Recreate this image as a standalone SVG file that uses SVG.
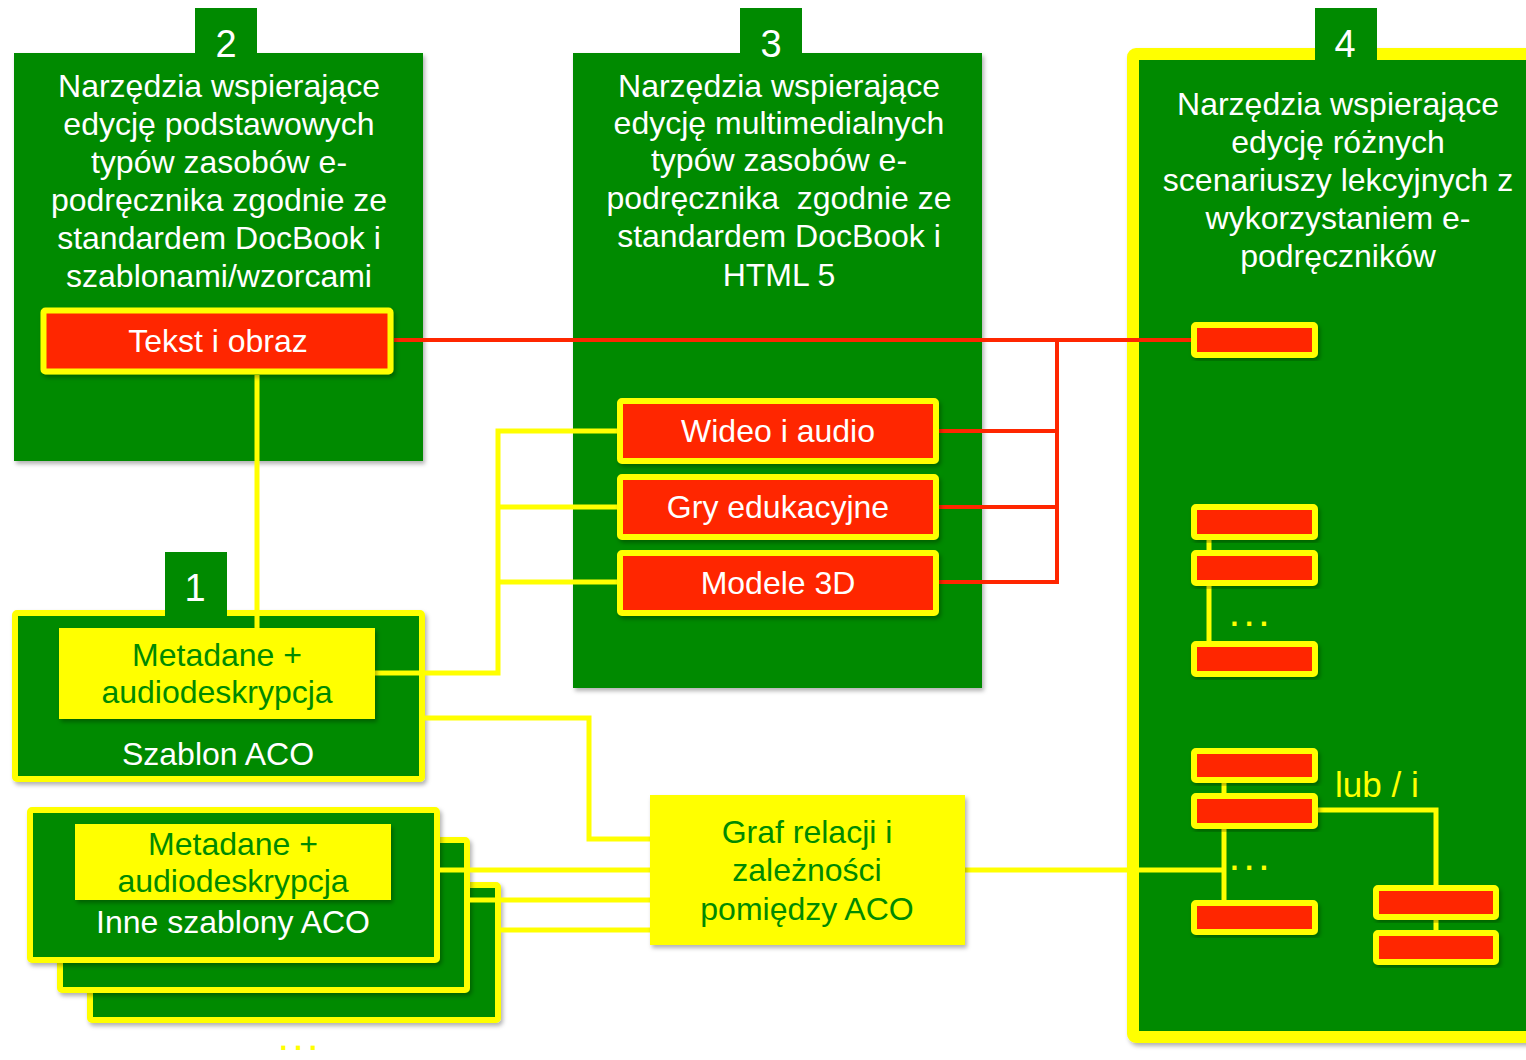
<svg xmlns="http://www.w3.org/2000/svg" width="1526" height="1060" viewBox="0 0 1526 1060">
<defs>
<filter id="sh" x="-10%" y="-10%" width="130%" height="130%">
<feDropShadow dx="2" dy="3" stdDeviation="2" flood-color="#000" flood-opacity="0.3"/>
</filter>
<style>
.g{fill:#008A00}
.frame{fill:#008A00;stroke:#FFFF00}
.lbl{fill:#FF2600;stroke:#FFFF00;stroke-width:6}
.yb{fill:#FFFF00}
text{font-family:"Liberation Sans",Arial,sans-serif;text-anchor:middle}
.wt{fill:#FFFFFF;font-size:32px}
.num{fill:#FFFFFF;font-size:38px}
.gt{fill:#008A00;font-size:32px}
.yt{fill:#FFFF00}
.dots{fill:#FFFF00;font-family:"DejaVu Sans",sans-serif;font-weight:bold;font-size:23px;letter-spacing:6px;text-anchor:start}
.yl{stroke:#FFFF00;stroke-width:5;fill:none}
.rl{stroke:#FF2600;stroke-width:4;fill:none}
</style>
</defs>

<g id="node-2">
<rect class="g" x="14" y="53" width="409" height="408" filter="url(#sh)"/>
<rect class="g" x="195" y="8" width="62" height="46"/>
<text class="num" x="226" y="57">2</text>
<text class="wt" x="219" y="97">Narzędzia wspierające</text>
<text class="wt" x="219" y="135">edycję podstawowych</text>
<text class="wt" x="219" y="173">typów zasobów e-</text>
<text class="wt" x="219" y="211">podręcznika zgodnie ze</text>
<text class="wt" x="219" y="249">standardem DocBook i</text>
<text class="wt" x="219" y="287">szablonami/wzorcami</text>
</g>

<g id="node-3">
<rect class="g" x="573" y="53" width="409" height="635" filter="url(#sh)"/>
<rect class="g" x="740" y="8" width="62" height="46"/>
<text class="num" x="771" y="57">3</text>
<text class="wt" x="779" y="97">Narzędzia wspierające</text>
<text class="wt" x="779" y="134">edycję multimedialnych</text>
<text class="wt" x="779" y="171">typów zasobów e-</text>
<text class="wt" x="779" y="209" xml:space="preserve">podręcznika  zgodnie ze</text>
<text class="wt" x="779" y="247">standardem DocBook i</text>
<text class="wt" x="779" y="286">HTML 5</text>
</g>

<g id="node-4">
<rect class="frame" x="1133" y="54" width="420" height="983" stroke-width="12" rx="3" filter="url(#sh)"/>
<rect class="g" x="1315" y="8" width="62" height="52"/>
<text class="num" x="1345" y="57">4</text>
<text class="wt" x="1338" y="115">Narzędzia wspierające</text>
<text class="wt" x="1338" y="153">edycję różnych</text>
<text class="wt" x="1338" y="191">scenariuszy lekcyjnych z</text>
<text class="wt" x="1338" y="229">wykorzystaniem e-</text>
<text class="wt" x="1338" y="267">podręczników</text>
</g>

<g id="node-1">
<rect class="frame" x="15" y="613" width="407" height="166" stroke-width="6" rx="2" filter="url(#sh)"/>
<rect class="g" x="165" y="552" width="62" height="64"/>
<text class="num" x="195" y="601">1</text>
<text class="wt" x="218" y="765">Szablon ACO</text>
</g>

<g id="node-inne">
<rect class="frame" x="90" y="885" width="408" height="135" stroke-width="6" rx="2" filter="url(#sh)"/>
<rect class="frame" x="60" y="840" width="407" height="150" stroke-width="6" rx="2" filter="url(#sh)"/>
<rect class="frame" x="30" y="810" width="407" height="150" stroke-width="6" rx="2" filter="url(#sh)"/>
<text class="wt" x="233" y="933">Inne szablony ACO</text>
<text class="dots" x="279" y="1050">...</text>
</g>

<g id="connectors">
<path class="rl" d="M394 340 H1194"/>
<path class="rl" d="M1057 340 V582"/>
<path class="rl" d="M937 431 H1057 M937 507 H1057 M937 582 H1059"/>
<path class="yl" d="M257 375 V628"/>
<path class="yl" d="M375 673 H498 V431 H617 M498 507 H617 M498 582 H617"/>
<path class="yl" d="M425 718 H589 V839 H650"/>
<path class="yl" d="M440 870 H650 M470 900 H650 M501 930 H650"/>
<path class="yl" d="M965 870 H1224"/>
<path class="yl" d="M1224 783 V900"/>
<path class="yl" d="M1209 540 V641"/>
<path class="yl" d="M1318 810 H1436 V885 M1436 920 V930"/>
</g>

<g id="node-tekst">
<rect class="lbl" x="43.5" y="310.5" width="347" height="61" stroke-width="7" rx="2" filter="url(#sh)"/>
<text class="wt" x="218" y="352">Tekst i obraz</text>
</g>

<g id="node-wideo">
<rect class="lbl" x="620" y="401" width="316" height="60" rx="2" filter="url(#sh)"/>
<text class="wt" x="778" y="442">Wideo i audio</text>
</g>

<g id="node-gry">
<rect class="lbl" x="620" y="477" width="316" height="60" rx="2" filter="url(#sh)"/>
<text class="wt" x="778" y="518">Gry edukacyjne</text>
</g>

<g id="node-modele">
<rect class="lbl" x="620" y="553" width="316" height="60" rx="2" filter="url(#sh)"/>
<text class="wt" x="778" y="594">Modele 3D</text>
</g>

<g id="node-metadane-1">
<rect class="yb" x="59" y="628" width="316" height="91" filter="url(#sh)"/>
<text class="gt" x="217" y="666">Metadane +</text>
<text class="gt" x="217" y="703">audiodeskrypcja</text>
</g>

<g id="node-metadane-2">
<rect class="yb" x="75" y="824" width="316" height="76" filter="url(#sh)"/>
<text class="gt" x="233" y="855">Metadane +</text>
<text class="gt" x="233" y="892">audiodeskrypcja</text>
</g>

<g id="node-graf">
<rect class="yb" x="650" y="795" width="315" height="150" filter="url(#sh)"/>
<text class="gt" x="807" y="843">Graf relacji i</text>
<text class="gt" x="807" y="881">zależności</text>
<text class="gt" x="807" y="920">pomiędzy ACO</text>
</g>

<g id="node-scenario-items">
<rect class="lbl" x="1194" y="325" width="121" height="30" rx="2" filter="url(#sh)"/>
<rect class="lbl" x="1194" y="507" width="121" height="30" rx="2" filter="url(#sh)"/>
<rect class="lbl" x="1194" y="553" width="121" height="30" rx="2" filter="url(#sh)"/>
<rect class="lbl" x="1194" y="644" width="121" height="30" rx="2" filter="url(#sh)"/>
<text class="dots" x="1230" y="626">...</text>
<rect class="lbl" x="1194" y="751" width="121" height="29" rx="2" filter="url(#sh)"/>
<rect class="lbl" x="1194" y="796" width="121" height="30" rx="2" filter="url(#sh)"/>
<rect class="lbl" x="1194" y="903" width="121" height="29" rx="2" filter="url(#sh)"/>
<text class="dots" x="1230" y="870">...</text>
<rect class="lbl" x="1376" y="888" width="120" height="29" rx="2" filter="url(#sh)"/>
<rect class="lbl" x="1376" y="933" width="120" height="29" rx="2" filter="url(#sh)"/>
<text class="yt" x="1335" y="797" font-size="35" style="text-anchor:start">lub / i</text>
</g>
</svg>
